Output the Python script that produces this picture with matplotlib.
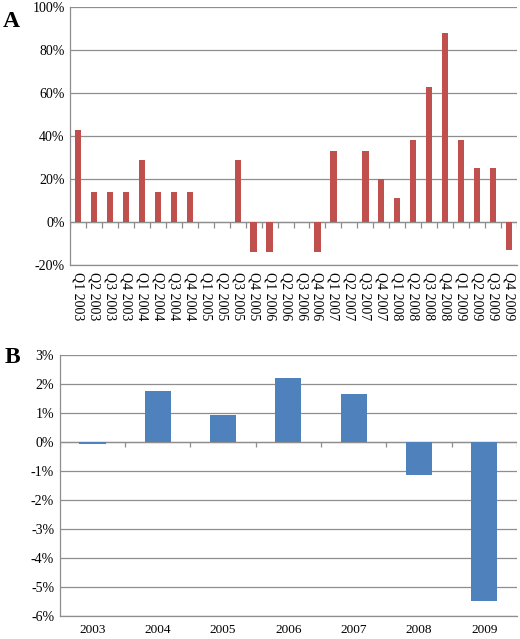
import numpy as np
import matplotlib
matplotlib.use("Agg")
import matplotlib.pyplot as plt
from matplotlib.ticker import FuncFormatter

plt.rcParams["font.family"] = ["Liberation Serif", "DejaVu Serif"]

# panel A: quarterly values (%)
quarters = [f"Q{q} {y}" for y in range(2003, 2010) for q in range(1, 5)]
quarter_vals = [43, 14, 14, 14, 29, 14, 14, 14, 0, 0, 29, -14,
                -14, 0, 0, -14, 33, 0, 33, 20, 11, 38, 63, 88,
                38, 25, 25, -13]

# panel B: yearly values (%)
years = ["2003", "2004", "2005", "2006", "2007", "2008", "2009"]
year_vals = [-0.05, 1.75, 0.95, 2.2, 1.68, -1.12, -5.47]

red = "#C0504D"
blue = "#4F81BD"
grid_c = "#8e8e8e"

fig = plt.figure(figsize=(5.2, 6.39), dpi=100)
axA = fig.add_axes([0.135, 0.585, 0.859, 0.404])
axB = fig.add_axes([0.115, 0.036, 0.879, 0.408])

pct = FuncFormatter(lambda v, p: f"{v:.0f}%")


def style(ax, n, ylim, step, tick_len):
    ax.set_xlim(-0.5, n - 0.5)
    ax.set_ylim(*ylim)
    ax.set_yticks(np.arange(ylim[0], ylim[1] + step / 2, step))
    ax.yaxis.set_major_formatter(pct)
    ax.yaxis.grid(True, color=grid_c, linewidth=0.9)
    ax.set_axisbelow(True)
    for s in ["top", "right"]:
        ax.spines[s].set_visible(False)
    for s in ["left", "bottom"]:
        ax.spines[s].set_color(grid_c)
        ax.spines[s].set_linewidth(0.9)
    ax.tick_params(axis="y", length=0, labelsize=10, pad=4)
    ax.tick_params(axis="x", length=0)
    # zero line with category separator ticks
    ax.axhline(0, color=grid_c, linewidth=0.9, zorder=1)
    ax.vlines(np.arange(n + 1) - 0.5, 0, -tick_len, color=grid_c, linewidth=0.9)


xA = np.arange(len(quarters))
axA.bar(xA, quarter_vals, width=0.4, color=red, zorder=2)
style(axA, len(quarters), (-20, 100), 20, 2.5)
axA.set_xticks(xA)
axA.set_xticklabels(quarters, rotation=-90, fontsize=10)
axA.tick_params(axis="x", pad=5)

xB = np.arange(len(years))
axB.bar(xB, year_vals, width=0.4, color=blue, zorder=2)
style(axB, len(years), (-6, 3), 1, 0.15)
axB.set_xticks(xB)
axB.set_xticklabels(years, fontsize=9.5)
axB.tick_params(axis="x", pad=6)

fig.text(0.006, 0.967, "A", fontsize=17, fontweight="bold", ha="left", va="center")
fig.text(0.008, 0.440, "B", fontsize=17, fontweight="bold", ha="left", va="center")

fig.savefig("out.png", dpi=100)
